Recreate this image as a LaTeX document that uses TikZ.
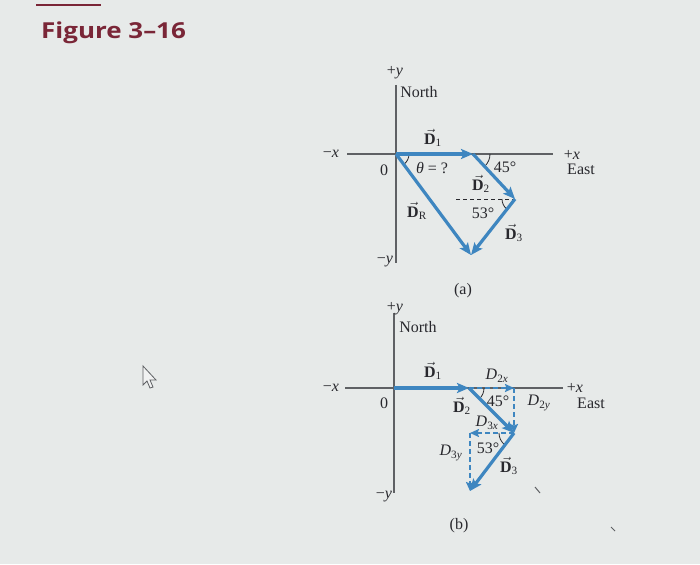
\documentclass[tikz,border=0pt]{standalone}
\usepackage{fontspec}
\setmainfont{Liberation Serif}
\newfontfamily\titlefont{Open Sans}
\usetikzlibrary{arrows.meta,calc}
\definecolor{bg}{RGB}{231,234,233}
\definecolor{vecblue}{RGB}{62,134,192}
\definecolor{axisgray}{RGB}{95,97,100}
\definecolor{titlered}{RGB}{122,38,55}
\definecolor{txt}{RGB}{40,40,45}
\newcommand{\vD}[1]{$\vec{\mbox{\textbf{D}}}$\textsubscript{#1}}
\newcommand{\cD}[2]{\textit{D}\textsubscript{#1\textit{#2}}}
\begin{document}
\begin{tikzpicture}[x=1pt,y=-1pt,
  axis/.style={draw=axisgray,line width=1.1pt},
  vecarrow/.style={draw=vecblue,line width=3.2pt,-{Stealth[length=12pt,width=10pt,inset=2.5pt]}},
  comp/.style={draw=vecblue,line width=2.6pt,dash pattern=on 5pt off 3pt,-{Stealth[length=9pt,width=8pt,inset=1.5pt]}},
  anglearc/.style={draw=txt,line width=0.8pt},
  guide/.style={draw=txt,line width=0.8pt,dash pattern=on 4pt off 3pt},
  lbl/.style={text=txt,font=\fontsize{16}{18}\selectfont,inner sep=1pt},
  scratch/.style={draw=axisgray,line width=1pt}]
\fill[bg] (0,0) rectangle (700,564);
\useasboundingbox (0,0) rectangle (700,564);

% title
\draw[titlered,line width=1.6pt] (36,5) -- (101,5);
\node[text=titlered,anchor=west,inner sep=0pt] (title) at (41,33)
  {\scalebox{1.18}[1]{\titlefont\bfseries\fontsize{22}{25}\selectfont Figure 3–16}};

% cursor
\draw[axisgray,line width=0.8pt,fill=bg!60!white] (143,366) -- (143,385) -- (147,381) -- (150,388) -- (153,387) -- (150,380) -- (156,380) -- cycle;
\draw[scratch] (535,487) -- (540,493);
\draw[scratch] (611,527) -- (615,531);

% ---------- panel (a) ----------
\coordinate (Oa) at (396,154);
\coordinate (Aa) at (473,154);
\coordinate (Ba) at (515,199);
\coordinate (Ca) at (471,255);
\coordinate (xla) at (347,154);
\coordinate (xra) at (553,154);
\coordinate (yta) at (396,85);
\coordinate (yba) at (396,263);
\coordinate (Ga) at (456,199);
\draw[axis] (xla) -- (xra);
\draw[axis] (yta) -- (yba);
\draw[guide] (Ga) -- (Ba);
\draw[anglearc] ($(Oa)+(13,0)$) arc[start angle=0,end angle=53,radius=13];
\draw[anglearc] ($(Aa)+(17,0)$) arc[start angle=0,end angle=45,radius=17];
\draw[anglearc] ($(Ba)+(-13,0)$) arc[start angle=180,end angle=128,radius=13];
\draw[vecarrow] (Oa) -- (Aa);
\draw[vecarrow] (Aa) -- (Ba);
\draw[vecarrow] (Ba) -- (Ca);
\draw[vecarrow] (Oa) -- (Ca);
\node[lbl] (pya) at (395,73) {+\textit{y}};
\node[lbl] (northa) at (419,92) {North};
\node[lbl] (mxa) at (331,154) {−\textit{x}};
\node[lbl] (zeroa) at (384,170) {0};
\node[lbl] (pxa) at (572,155) {+\textit{x}};
\node[lbl] (easta) at (581,169) {East};
\node[lbl] (mya) at (385,262) {−\textit{y}};
\node[lbl] (d1a) at (433,138) {\vD{1}};
\node[lbl] (tha) at (432,168) {\textit{θ} = ?};
\node[lbl] (a45) at (505,167) {45°};
\node[lbl] (d2a) at (481,184) {\vD{2}};
\node[lbl] (a53) at (483,213) {53°};
\node[lbl] (d3a) at (514,233) {\vD{3}};
\node[lbl] (dra) at (417,211) {\vD{R}};
\node[lbl] (capa) at (463,291) {(a)};

% ---------- panel (b) ----------
\coordinate (Ob) at (394,388);
\coordinate (Ab) at (469,388);
\coordinate (Bb) at (514,433);
\coordinate (Cb) at (470,491);
\coordinate (Pb) at (514,388);
\coordinate (Qb) at (470,433);
\coordinate (xlb) at (345,388);
\coordinate (xrb) at (563,388);
\coordinate (ytb) at (394,313);
\coordinate (ybb) at (394,493);
\draw[axis] (xlb) -- (xrb);
\draw[axis] (ytb) -- (ybb);
\draw[anglearc] ($(Ab)+(15,0)$) arc[start angle=0,end angle=45,radius=15];
\draw[anglearc] ($(Bb)+(-15,0)$) arc[start angle=180,end angle=128,radius=15];
\draw[vecarrow] (Ob) -- (Ab);
\draw[comp] (Ab) -- (Pb);
\draw[comp] (Pb) -- (Bb);
\draw[comp] (Bb) -- (Qb);
\draw[comp] (Qb) -- (Cb);
\draw[vecarrow] (Ab) -- (Bb);
\draw[vecarrow] (Bb) -- (Cb);
\node[lbl] (pyb) at (395,309) {+\textit{y}};
\node[lbl] (northb) at (418,327) {North};
\node[lbl] (mxb) at (331,388) {−\textit{x}};
\node[lbl] (zerob) at (384,403) {0};
\node[lbl] (pxb) at (575,388) {+\textit{x}};
\node[lbl] (eastb) at (591,403) {East};
\node[lbl] (myb) at (384,497) {−\textit{y}};
\node[lbl] (d1b) at (433,371) {\vD{1}};
\node[lbl] (d2xb) at (497,376) {\cD{2}{x}};
\node[lbl] (d2b) at (462,406) {\vD{2}};
\node[lbl] (b45) at (498,401) {45°};
\node[lbl] (d2yb) at (539,403) {\cD{2}{y}};
\node[lbl] (d3xb) at (487,423) {\cD{3}{x}};
\node[lbl] (d3yb) at (451,453) {\cD{3}{y}};
\node[lbl] (b53) at (488,448) {53°};
\node[lbl] (d3b) at (509,466) {\vD{3}};
\node[lbl] (capb) at (459,526) {(b)};
\end{tikzpicture}
\end{document}
